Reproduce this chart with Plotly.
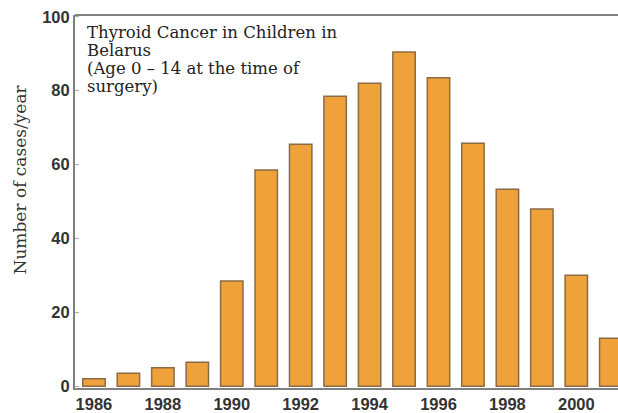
import plotly.graph_objects as go

years = [1986, 1987, 1988, 1989, 1990, 1991, 1992, 1993, 1994, 1995,
         1996, 1997, 1998, 1999, 2000, 2001]
cases = [2, 3.5, 5, 6.5, 28.5, 58.5, 65.5, 78.5, 82, 90.5,
         83.5, 65.8, 53.3, 48, 30, 13]
x_tick_vals = [1986, 1988, 1990, 1992, 1994, 1996, 1998, 2000]
y_tick_vals = [0, 20, 40, 60, 80, 100]

title_lines = ["Thyroid Cancer in Children in", "Belarus",
               "(Age 0 \u2013 14 at the time of", "surgery)"]
y_title = "Number of cases/year"

fig = go.Figure()
fig.add_trace(go.Bar(
    x=years, y=cases, width=0.65,
    marker=dict(color="#F0A23A", line=dict(color="#8B6B45", width=1.5)),
))

annotations = []
for i, line in enumerate(title_lines):
    annotations.append(dict(
        text=line, xref="paper", yref="paper", x=0.018, y=0.954 - i * 0.0485,
        xanchor="left", yanchor="middle", showarrow=False, align="left",
        font=dict(family="DejaVu Serif", size=16.5, color="#222222")))
annotations.append(dict(
    text=y_title, xref="paper", yref="y", x=-0.101, y=56,
    xanchor="center", yanchor="middle", textangle=-90, showarrow=False,
    font=dict(family="DejaVu Serif", size=17, color="#333333")))

fig.update_layout(
    width=618, height=413,
    margin=dict(l=75, r=0, t=15, b=19),
    paper_bgcolor="white", plot_bgcolor="white",
    showlegend=False,
    xaxis=dict(range=[1985.45, 2001.21], tickvals=x_tick_vals,
               ticktext=[str(v) for v in x_tick_vals],
               showgrid=False, zeroline=False, showline=True,
               linecolor="#808080", linewidth=2, ticks="",
               tickfont=dict(family="Liberation Sans", size=16.5, color="#333333",
                             weight="bold")),
    yaxis=dict(range=[-0.5, 100.5], tickvals=y_tick_vals,
               showgrid=False, zeroline=False, showline=True,
               linecolor="#808080", linewidth=2,
               ticks="inside", ticklen=4, tickcolor="#aaaaaa",
               tickfont=dict(family="Liberation Sans", size=16.5, color="#333333",
                             weight="bold")),
    shapes=[dict(type="line", xref="paper", yref="paper", x0=0, x1=1, y0=1, y1=1,
                 line=dict(color="#808080", width=2))],
    annotations=annotations,
)

fig.write_html("out.html", config={"displayModeBar": False},
               post_script="document.body.style.margin='0';document.body.style.overflow='hidden';")
